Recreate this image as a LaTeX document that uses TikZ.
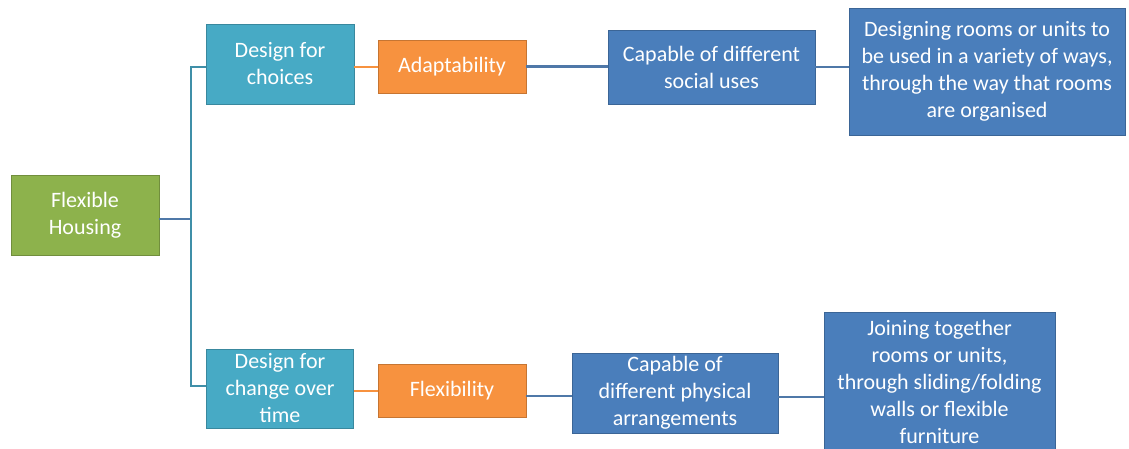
\documentclass[tikz,border=0pt]{standalone}
\usepackage{fontspec}
\setmainfont{Carlito}
\usetikzlibrary{
	positioning				% relative placement
	, calc
}
\definecolor{housegreen}{HTML}{8DB24C}
\definecolor{designteal}{HTML}{47AAC5}
\definecolor{typeorange}{HTML}{F7923F}
\definecolor{detailblue}{HTML}{4A7EBB}
\definecolor{trunkline}{HTML}{3F8FA8}
\definecolor{linkline}{HTML}{4F78A8}

\begin{document}
\begin{tikzpicture}[
				x=1pt, y=-1pt,
				element/.style={
				rectangle,
				draw=#1!80!black, thin,
				fill=#1,
				text=white,
				inner sep=2pt,
				align=center,
				font=\fontsize{22}{27}\selectfont
			},
			trunk/.style={
				draw=trunkline,
				line width=2.2pt
			},
			link/.style={
				draw=#1,
				line width=2.2pt
			}]

			\clip (0,0) rectangle (1129,448);

			\node [element=housegreen, minimum width=148pt, minimum height=80pt] (house) at (85,215) {Flexible\\Housing};

			%%% Top branch
			\node [element=designteal, minimum width=148pt, minimum height=80pt] (choices) at (280,64) {Design for\\choices};
			\node [element=typeorange, minimum width=148pt, minimum height=53pt] (adapt) at (452,66.5) {Adaptability};
			\node [element=detailblue, minimum width=207pt, minimum height=74pt] (social) at (711.5,67) {Capable of different\\social uses};
			\node [element=detailblue, minimum width=276pt, minimum height=127pt] (rooms) at (987,71.5) {Designing rooms or units to\\be used in a variety of ways,\\through the way that rooms\\are organised};

			%%% Bottom branch
			\node [element=designteal, minimum width=147pt, minimum height=79pt] (change) at (280,388.5) {Design for\\change over\\time};
			\node [element=typeorange, minimum width=148pt, minimum height=53pt] (flex) at (452,390.5) {Flexibility};
			\node [element=detailblue, minimum width=206pt, minimum height=80pt] (physical) at (675,393) {Capable of\\different physical\\arrangements};
			\node [element=detailblue, minimum width=231pt, minimum height=140pt] (joining) at (939.5,382) {Joining together\\rooms or units,\\through sliding/folding\\walls or flexible\\furniture};

			% the trunk joining both branches
			\coordinate (split) at (191,219);
			\coordinate (topend) at ($(choices.west)+(0,3)$);
			\coordinate (lowend) at ($(change.west)+(0,-2.5)$);
			\draw [link=linkline] (house.east |- split) -- (split);
			\draw [trunk] (split) |- (topend);
			\draw [trunk] (split) |- (lowend);

			% connectors along each branch
			\coordinate (choicesout) at ($(choices.east)+(0,3)$);
			\coordinate (changeout) at ($(change.east)+(0,2.5)$);
			\coordinate (flexout) at ($(flex.east)+(0,5.5)$);
			\coordinate (physicalout) at ($(physical.east)+(0,4)$);
			\draw [link=typeorange] (choicesout) -- (choicesout -| adapt.west);
			\draw [link=linkline] (adapt.east) -- (adapt.east -| social.west);
			\draw [link=linkline] (social.east) -- (social.east -| rooms.west);
			\draw [link=typeorange] (changeout) -- (changeout -| flex.west);
			\draw [link=linkline] (flexout) -- (flexout -| physical.west);
			\draw [link=linkline] (physicalout) -- (physicalout -| joining.west);

		\end{tikzpicture}
\end{document}
